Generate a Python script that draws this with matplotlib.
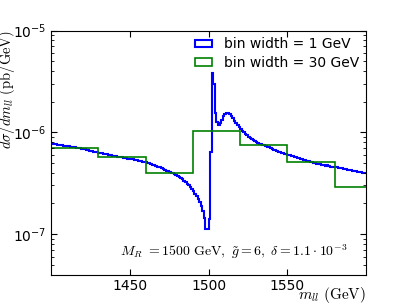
import numpy as np
import matplotlib
matplotlib.use("Agg")
import matplotlib.pyplot as plt
from matplotlib.patches import Rectangle

# 1 GeV bins, 1400..1600, values in units of 1e-7 pb/GeV
fine_lo = 1400
fine_vals = [
    # 1400-1429
    7.8, 7.7, 7.75, 7.6, 7.55, 7.5, 7.45, 7.5, 7.35, 7.3, 7.25, 7.3, 7.2, 7.15, 7.1,
    7.1, 7.0, 6.95, 6.95, 6.9, 6.8, 6.8, 6.7, 6.75, 6.6, 6.6, 6.5, 6.45, 6.4, 6.35,
    # 1430-1459
    6.3, 6.25, 6.2, 6.15, 6.15, 6.05, 6.0, 5.95, 6.0, 5.9, 5.85, 5.8, 5.75, 5.7, 5.7,
    5.65, 5.6, 5.6, 5.5, 5.5, 5.45, 5.45, 5.4, 5.35, 5.3, 5.25, 5.25, 5.2, 5.15, 5.1,
    # 1460-1489
    5.05, 5.0, 4.95, 4.88, 4.8, 4.75, 4.7, 4.6, 4.6, 4.52, 4.45, 4.35, 4.28, 4.2, 4.15,
    4.1, 4.0, 3.94, 3.88, 3.8, 3.72, 3.62, 3.55, 3.45, 3.35, 3.25, 3.12, 3.0, 2.88, 2.75,
    # 1490-1519
    2.62, 2.5, 2.38, 2.22, 2.05, 1.88, 1.7, 1.45, 1.13, 1.12,
    1.42, 6.4, 37.8, 30.0, 15.6, 12.6, 11.8, 12.2, 13.2, 14.5,
    15.2, 15.5, 15.3, 15.0, 14.3, 13.7, 13.0, 12.4, 11.9, 11.3,
    # 1520-1549
    10.8, 10.4, 9.95, 9.6, 9.3, 9.0, 8.7, 8.5, 8.3, 8.15, 7.95, 7.85, 7.75, 7.6, 7.55,
    7.45, 7.35, 7.2, 7.1, 7.0, 6.85, 6.75, 6.65, 6.55, 6.45, 6.35, 6.3, 6.2, 6.1, 6.05,
    # 1550-1579
    6.0, 5.95, 5.85, 5.8, 5.75, 5.7, 5.6, 5.55, 5.45, 5.4, 5.35, 5.3, 5.2, 5.2, 5.1,
    5.05, 4.95, 4.95, 4.9, 4.85, 4.85, 4.8, 4.75, 4.75, 4.7, 4.72, 4.65, 4.6, 4.6, 4.55,
    # 1580-1599
    4.58, 4.55, 4.5, 4.48, 4.45, 4.4, 4.38, 4.35, 4.3, 4.25, 4.22, 4.2, 4.18, 4.15, 4.1,
    4.05, 4.08, 4.02, 4.0, 3.98,
]

# 30 GeV bins
coarse_edges = [1400, 1430, 1460, 1490, 1520, 1550, 1580, 1610]
coarse_vals = [7.05, 5.75, 4.0, 10.4, 7.55, 5.14, 2.92]

label_fine = "bin width = 1 GeV"
label_coarse = "bin width = 30 GeV"
x_ticks = [1450, 1500, 1550]

plt.rcParams["mathtext.fontset"] = "cm"

fig = plt.figure(figsize=(4.07, 3.05), dpi=100)
ax = fig.add_axes([0.125, 0.1, 0.775, 0.8])

fine = np.array(fine_vals) * 1e-7
fine_edges = np.arange(fine_lo, fine_lo + len(fine) + 1)
ax.stairs(fine, fine_edges, baseline=None, color="#0000ff", lw=1.5)
ax.stairs(np.array(coarse_vals) * 1e-7, coarse_edges, baseline=None,
          color="#008000", lw=1.2)

ax.set_yscale("log")
ax.set_xlim(1400, 1600)
ax.set_ylim(4e-8, 1e-5)
ax.set_xticks(x_ticks)
ax.tick_params(which="both", direction="in", top=True, right=True, labelsize=10)
ax.tick_params(which="major", length=4)
ax.tick_params(which="minor", length=2)

ax.set_ylabel(r"$d\sigma/dm_{ll}\ (\mathrm{pb/GeV})$", fontsize=10.5)
ax.yaxis.set_label_coords(-0.108, 0.76)
ax.set_xlabel(r"$m_{ll}\ (\mathrm{GeV})$", fontsize=11, ha="right", va="center")
ax.xaxis.set_label_coords(1.0, -0.082)

ax.text(0.94, 0.094, r"$M_R\ {=}1500\ \mathrm{GeV},\ \tilde{g}{=}6,\ \delta{=}1.1\cdot 10^{-3}$",
        transform=ax.transAxes, ha="right", va="center", fontsize=10)

handles = [Rectangle((0, 0), 1, 1, fill=False, edgecolor="#0000ff", lw=1.5),
           Rectangle((0, 0), 1, 1, fill=False, edgecolor="#008000", lw=1.2)]
ax.legend(handles, [label_fine, label_coarse], loc="upper right", frameon=False,
          fontsize=10, handlelength=1.2, handleheight=0.5, handletextpad=0.9,
          borderaxespad=0.2, borderpad=0.3, labelspacing=0.3)

fig.savefig("out.png", dpi=100)
